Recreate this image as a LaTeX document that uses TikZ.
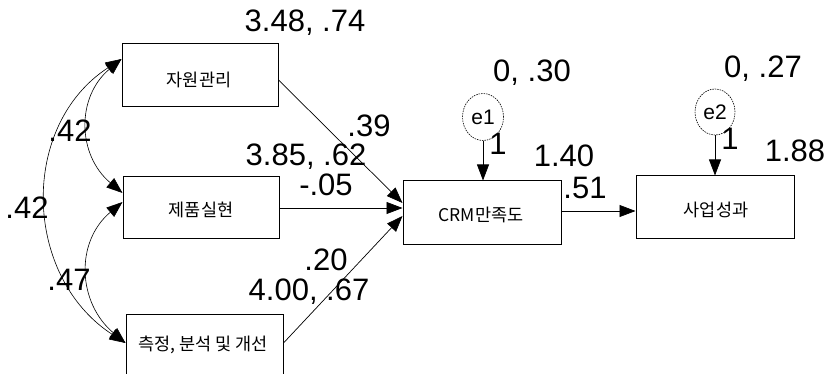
\documentclass[tikz,border=0pt]{standalone}
\usepackage{fontspec}
\setmainfont{Liberation Sans}
\newfontfamily\krfont{Noto Sans CJK KR}
\usetikzlibrary{arrows.meta,shapes.geometric}
\begin{document}
\begin{tikzpicture}[x=1pt,y=1pt,
  box/.style={draw, line width=1pt, inner sep=0pt},
  num/.style={font=\fontsize{31}{31}\selectfont, anchor=base, inner sep=0pt},
  kt/.style={font=\krfont\fontsize{17.5}{17.5}\selectfont, inner sep=0pt},
  arr/.style={-{Triangle[length=16pt,width=12pt]}, line width=0.7pt},
  cov/.style={{Triangle[length=16pt,width=12pt]}-{Triangle[length=16pt,width=12pt]}, line width=0.6pt},
  err/.style={draw, ellipse, dash pattern=on 1.5pt off 1pt, line width=0.6pt, inner sep=0pt, font=\fontsize{21}{21}\selectfont}]
\useasboundingbox (0,0) rectangle (829,-374);

% boxes
\node[box, minimum width=156pt, minimum height=63pt] (b1) at (200,-75.5) {};
\node[box, minimum width=156pt, minimum height=61pt] (b2) at (201,-207.5) {};
\node[box, minimum width=157pt, minimum height=63pt] (b3) at (204.5,-345.5) {};
\node[box, minimum width=158pt, minimum height=63pt] (crm) at (482,-212.5) {};
\node[box, minimum width=158pt, minimum height=62pt] (biz) at (715,-207) {};

\node[kt] (t1) at (199,-80) {자원관리};
\node[kt] (t2) at (201,-210) {제품실현};
\node[kt] (t3) at (203,-345) {측정, 분석 및 개선};
\node[kt] (t4) at (481,-215) {CRM만족도};
\node[kt] (t5) at (716,-210) {사업성과};

% error terms
\node[err, minimum width=41pt, minimum height=47pt] (e1) at (483,-117) {e1};
\node[err, minimum width=40pt, minimum height=46pt] (e2) at (715,-112) {e2};

% paths
\draw[arr] ([yshift=-4.5pt]b1.east) -- ([yshift=9.5pt]crm.west);
\draw[arr] ([yshift=-0.5pt]b2.east) -- ([yshift=4.5pt]crm.west);
\draw[arr] ([yshift=2.5pt]b3.east) -- ([yshift=-3.5pt]crm.west);
\draw[arr] ([yshift=1.5pt]crm.east) -- (biz.west |- {0,-211});
\draw[arr] (e1.south) -- (e1.south |- crm.north);
\draw[arr] (e2.south) -- (e2.south |- biz.north);

% covariances
\draw[cov] ([yshift=16.5pt]b1.west) to[out=220,in=140,looseness=1.13] ([yshift=14.5pt]b2.west);
\draw[cov] ([yshift=16.5pt]b1.west) to[out=213,in=147,looseness=1.1] ([yshift=2.5pt]b3.west);
\draw[cov] ([yshift=5.5pt]b2.west) to[out=220,in=140,looseness=1.13] ([yshift=2.5pt]b3.west);

% labels
\node[num] (l1) at (305,-32) {3.48, .74};
\node[num] (l2) at (369,-137) {.39};
\node[num] (l3) at (306,-165) {3.85, .62};
\node[num] (l4) at (326,-195) {-.05};
\node[num] (l5) at (326,-270) {.20};
\node[num] (l6) at (309,-300) {4.00, .67};
\node[num] (l7) at (70,-142) {.42};
\node[num] (l8) at (27,-218) {.42};
\node[num] (l9) at (69,-290) {.47};
\node[num] (l10) at (532,-82) {0, .30};
\node[num] (l11) at (498,-155) {1};
\node[num] (l12) at (564,-167) {1.40};
\node[num] (l13) at (585,-198) {.51};
\node[num] (l14) at (763,-78) {0, .27};
\node[num] (l15) at (730,-150) {1};
\node[num] (l16) at (795,-162) {1.88};
\end{tikzpicture}
\end{document}
